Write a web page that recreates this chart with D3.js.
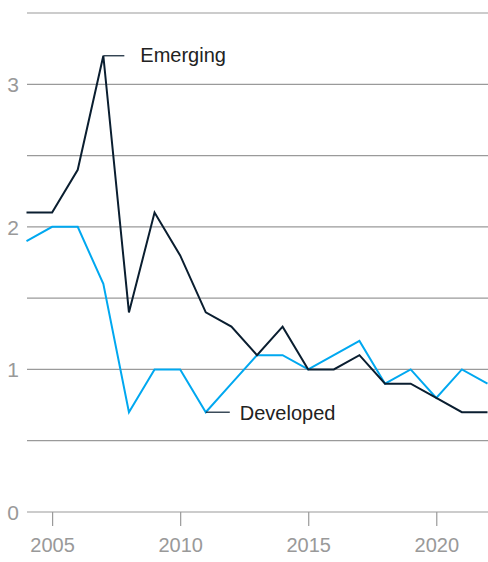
<!DOCTYPE html>
<html><head><meta charset="utf-8">
<script src="https://cdn.jsdelivr.net/npm/d3@7"></script>
<style>body{margin:0;background:#fff;}svg{display:block;font-family:"Liberation Sans",Arial,sans-serif;}</style>
</head><body><svg id="c" width="488" height="562"></svg>
<script>
const years = d3.range(2004, 2023);
const emerging = [2.1,2.1,2.4,3.2,1.4,2.1,1.8,1.4,1.3,1.1,1.3,1.0,1.0,1.1,0.9,0.9,0.8,0.7,0.7];
const developed = [1.9,2.0,2.0,1.6,0.7,1.0,1.0,0.7,0.9,1.1,1.1,1.0,1.1,1.2,0.9,1.0,0.8,1.0,0.9];
const yTicks = [0,1,2,3];
const gridVals = [0,0.5,1,1.5,2,2.5,3,3.5];
const xTicks = [2005,2010,2015,2020];

const svg = d3.select("#c");
const x = d3.scaleLinear().domain([2004,2022]).range([26.5,487.5]);
const y = d3.scaleLinear().domain([0,3.5]).range([512,13]);

svg.append("g").selectAll("line").data(gridVals).join("line")
  .attr("x1",27).attr("x2",488).attr("y1",d=>y(d)).attr("y2",d=>y(d))
  .attr("stroke","#9a9a9a").attr("stroke-width",1.2);

svg.append("g").selectAll("text").data(yTicks).join("text")
  .attr("x",13).attr("y",d=>y(d)+8).attr("text-anchor","middle")
  .attr("fill","#999").attr("font-size",21).text(d=>d);

const xa = svg.append("g").attr("transform","translate(0,512)")
  .call(d3.axisBottom(x).tickValues(xTicks).tickFormat(d3.format("d")).tickSize(14).tickPadding(12));
xa.select(".domain").remove();
xa.selectAll("line").attr("stroke","#9a9a9a").attr("stroke-width",1.2);
xa.selectAll("text").attr("fill","#999").attr("font-size",20).attr("font-family","Liberation Sans, Arial, sans-serif");

const line = d3.line().x((d,i)=>x(years[i])).y(d=>y(d));
svg.append("path").datum(developed).attr("d",line).attr("fill","none")
  .attr("stroke","#00a8f0").attr("stroke-width",2);
svg.append("path").datum(emerging).attr("d",line).attr("fill","none")
  .attr("stroke","#0a1e30").attr("stroke-width",2);

// labels
const iE = years.indexOf(2007), iD = years.indexOf(2011);
svg.append("line").attr("x1",x(2007)).attr("x2",x(2007)+21).attr("y1",y(emerging[iE])).attr("y2",y(emerging[iE]))
  .attr("stroke","#0a1e30").attr("stroke-width",1.2);
svg.append("text").attr("x",x(2007)+37).attr("y",y(emerging[iE])+6).attr("font-size",20).attr("fill","#222").text("Emerging");
svg.append("line").attr("x1",x(2011)).attr("x2",x(2011)+24).attr("y1",y(developed[iD])).attr("y2",y(developed[iD]))
  .attr("stroke","#0a1e30").attr("stroke-width",1.2);
svg.append("text").attr("x",x(2011)+34).attr("y",y(developed[iD])+8).attr("font-size",20).attr("fill","#222").text("Developed");
</script></body></html>
